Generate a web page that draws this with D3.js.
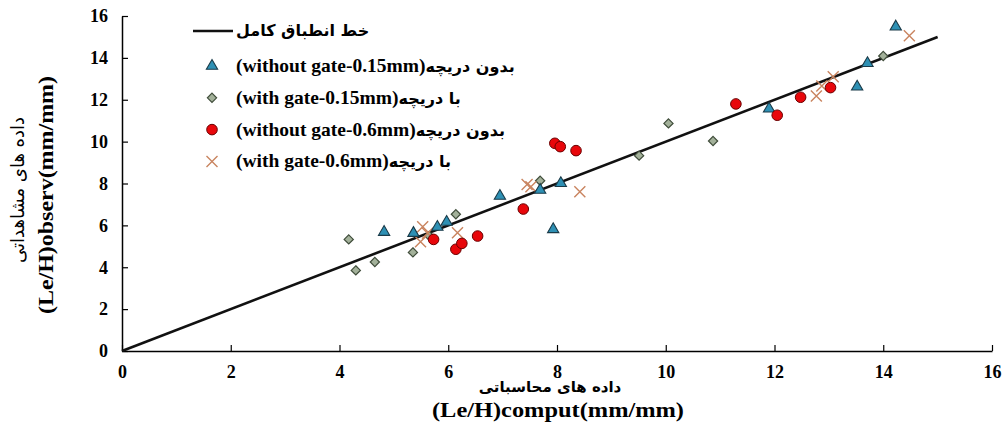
<!DOCTYPE html>
<html>
<head>
<meta charset="utf-8">
<script src="https://cdn.jsdelivr.net/npm/d3@7"></script>
<style>
body { margin: 0; background: #fff; }
</style>
</head>
<body>
<div id="my_dataviz"></div>
<script>
// series: [computed, observed]
var withoutGate015 = [[4.82,5.68],[5.36,5.63],[5.80,5.92],[5.97,6.16],[6.95,7.40],[7.69,7.69],[8.07,8.01],[7.93,5.81],[11.90,11.57],[13.52,12.62],[13.71,13.74],[14.23,15.49]];
var withGate015 = [[4.17,5.33],[4.30,3.85],[4.65,4.25],[5.35,4.71],[5.65,5.50],[6.14,6.53],[7.69,8.13],[9.51,9.33],[10.05,10.87],[10.87,10.03],[14.00,14.09]];
var withoutGate06 = [[5.73,5.33],[6.14,4.86],[6.25,5.14],[6.54,5.49],[7.38,6.78],[7.96,9.92],[8.06,9.76],[8.35,9.57],[11.29,11.80],[12.05,11.26],[12.48,12.12],[13.03,12.58]];
var withGate06 = [[5.53,5.94],[5.49,5.22],[5.62,5.62],[6.17,5.65],[7.45,7.95],[7.52,7.85],[8.42,7.61],[12.77,12.18],[12.87,12.66],[13.08,13.10],[14.48,15.06]];
var perfectLine = [[0,0],[15,15]];
var ticks = [0,2,4,6,8,10,12,14,16];

var legendLabels = [
  ["(without gate-0.15mm)", "بدون دریچه"],
  ["(with gate-0.15mm)", "با دریچه"],
  ["(without gate-0.6mm)", "بدون دریچه"],
  ["(with gate-0.6mm)", "با دریچه"]
];
var lineLabel = "خط انطباق کامل";

var W = 1006, H = 434;
var margin = {top: 16, right: 14, bottom: 83, left: 122},
width = 992 - margin.left,
height = 351 - margin.top;

var svg = d3.select('#my_dataviz')
  .append('svg')
    .attr('width', W)
    .attr('height', H);
var g = svg.append('g')
    .attr('transform','translate('+margin.left+','+margin.top+')');

var x = d3.scaleLinear().domain([0,16]).range([0,width]);
var y = d3.scaleLinear().domain([0,16]).range([height,0]);

var serif = "'Liberation Serif', 'Times New Roman', serif";
var arab = "'DejaVu Sans', sans-serif";

// axes
var xAxis = g.append("g")
  .attr("transform","translate(0,"+height+")")
  .call(d3.axisBottom(x).tickValues(ticks).tickSizeInner(-6).tickSizeOuter(0).tickPadding(14));
var yAxis = g.append("g")
  .call(d3.axisLeft(y).tickValues(ticks).tickSizeInner(-6).tickSizeOuter(0).tickPadding(14));
[xAxis, yAxis].forEach(function(a){
  a.select(".domain").attr("stroke","#000").attr("stroke-width",1.5);
  a.selectAll(".tick line").attr("stroke","#000").attr("stroke-width",1.2);
  a.selectAll("text")
    .style("font-family", serif)
    .style("font-weight","bold")
    .style("font-size","18px")
    .attr("fill","#000");
});

// perfect fit line
g.append("path")
  .datum(perfectLine)
  .attr("d", d3.line().x(function(d){return x(d[0]);}).y(function(d){return y(d[1]);}))
  .attr("stroke","#111")
  .attr("stroke-width",2.6)
  .attr("fill","none");

// marker drawers
function tri(sel){
  sel.append("path")
    .attr("d", d3.symbol().type(d3.symbolTriangle).size(55))
    .attr("fill","#2e90b4").attr("stroke","#1a3a48").attr("stroke-width",1.1);
}
function dia(sel){
  sel.append("path")
    .attr("d","M0,-4.6L4.6,0L0,4.6L-4.6,0Z")
    .attr("fill","#a3b19a").attr("stroke","#3f4c3a").attr("stroke-width",1.2);
}
function circ(sel){
  sel.append("circle").attr("r",5.3)
    .attr("fill","#e8070b").attr("stroke","#6a0000").attr("stroke-width",1);
}
function cross(sel){
  sel.append("path")
    .attr("d","M-5.5,-5.5L5.5,5.5M-5.5,5.5L5.5,-5.5")
    .attr("stroke","#c9845f").attr("stroke-width",1.4).attr("fill","none");
}

var series = [
  {data: withGate015, draw: dia},
  {data: withGate06, draw: cross},
  {data: withoutGate015, draw: tri},
  {data: withoutGate06, draw: circ}
];
series.forEach(function(s){
  g.selectAll(null)
    .data(s.data)
    .enter()
    .append("g")
      .attr("transform", function(d){ return "translate("+x(d[0])+","+y(d[1])+")"; })
      .each(function(){ s.draw(d3.select(this)); });
});

// legend
var leg = svg.append("g");
leg.append("line").attr("x1",193).attr("x2",233).attr("y1",31).attr("y2",31)
  .attr("stroke","#111").attr("stroke-width",2.6);
leg.append("text").attr("x",236).attr("y",36)
  .style("font-family",arab).style("font-weight","bold").style("font-size","16px")
  .text(lineLabel);
var drawers = [tri, dia, circ, cross];
legendLabels.forEach(function(l,i){
  var yy = 66 + i*31.8;
  var m = leg.append("g").attr("transform","translate(212,"+yy+")");
  drawers[i](m);
  var t = leg.append("text").attr("x",236).attr("y",yy+6)
    .attr("direction","ltr");
  t.append("tspan").text(l[0])
    .style("font-family",serif).style("font-weight","bold").style("font-size","19.5px");
  t.append("tspan").text(l[1])
    .style("font-family",arab).style("font-weight","bold").style("font-size","16px");
});

// axis titles
svg.append("text")
  .attr("transform","translate(24,190)rotate(-90)")
  .style("text-anchor","middle")
  .style("font-family",arab).style("font-size","18px")
  .text("داده های مشاهداتی");
svg.append("text")
  .attr("transform","translate(53,195)rotate(-90)")
  .style("text-anchor","middle")
  .style("font-family",serif).style("font-weight","bold").style("font-size","21px")
  .attr("textLength",238).attr("lengthAdjust","spacingAndGlyphs")
  .text("(Le/H)observ(mm/mm)");
svg.append("text")
  .attr("x",550).attr("y",392)
  .style("text-anchor","middle")
  .style("font-family",arab).style("font-weight","bold").style("font-size","15px")
  .text("داده های محاسباتی");
svg.append("text")
  .attr("x",558).attr("y",417)
  .style("text-anchor","middle")
  .style("font-family",serif).style("font-weight","bold").style("font-size","21px")
  .attr("textLength",252).attr("lengthAdjust","spacingAndGlyphs")
  .text("(Le/H)comput(mm/mm)");
</script>
</body>
</html>
